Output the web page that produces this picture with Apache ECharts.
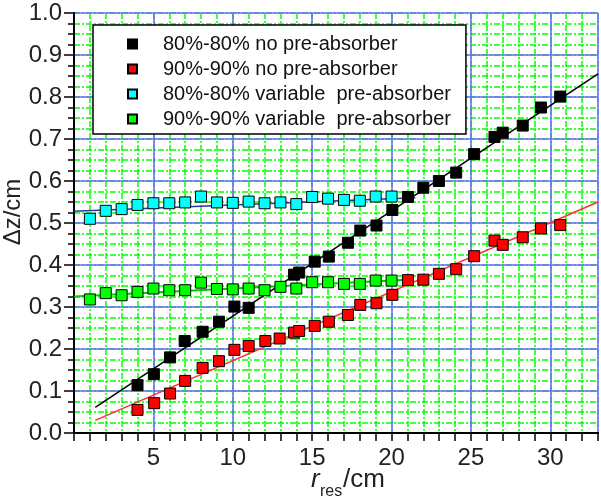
<!DOCTYPE html>
<html><head><meta charset="utf-8">
<script src="https://cdn.jsdelivr.net/npm/echarts@6/dist/echarts.min.js"></script>
<style>html,body{margin:0;padding:0;background:#fff}#c{width:601px;height:500px}</style>
</head><body><div id="c"></div>
<script>
// ---- data ----
const seriesNames = [
  '80%-80% no pre-absorber',
  '90%-90% no pre-absorber',
  '80%-80% variable  pre-absorber',
  '90%-90% variable  pre-absorber'
];
const blackX = [4.0,5.03,6.05,6.97,8.1,9.13,10.1,11.0,13.86,14.18,15.16,16.05,17.25,18.03,19.05,20.05,21.03,22.0,22.98,24.07,25.2,26.48,27.0,28.26,29.41,30.62];
const blackY = [0.114,0.140,0.180,0.219,0.241,0.265,0.301,0.298,0.377,0.382,0.408,0.420,0.453,0.482,0.494,0.531,0.562,0.584,0.600,0.620,0.664,0.705,0.715,0.732,0.775,0.801];
const redX = [4.0,5.05,6.05,7.0,8.1,9.13,10.1,11.0,12.05,12.95,13.86,14.18,15.16,16.05,17.25,18.03,19.05,20.05,21.03,22.0,22.98,24.07,25.2,26.48,27.0,28.26,29.41,30.62];
const redY = [0.055,0.071,0.094,0.124,0.155,0.171,0.198,0.207,0.219,0.225,0.239,0.243,0.255,0.265,0.281,0.305,0.309,0.329,0.364,0.365,0.379,0.390,0.421,0.458,0.448,0.466,0.487,0.495];
const varX = [1,2,3,4,5,6,7,8,9,10,11,12,13,14,15,16,17,18,19,20];
const cyanY = [0.510,0.529,0.533,0.543,0.547,0.547,0.549,0.563,0.549,0.548,0.551,0.547,0.549,0.545,0.562,0.558,0.555,0.553,0.563,0.563];
const greenY = [0.318,0.333,0.328,0.336,0.344,0.340,0.340,0.358,0.343,0.342,0.344,0.340,0.348,0.344,0.359,0.359,0.355,0.355,0.363,0.363];
// fitted lines (end points)
const fitBlack = [[1.34,0.061],[33,0.855]];
const fitRed = [[1.34,0.030],[33,0.550]];
const fitCyan = [[0,0.528],[21.5,0.560]];
const fitGreen = [[0,0.325],[21,0.365]];
const xTickLabels = [5,10,15,20,25,30];

const FONT = '"Liberation Sans", Arial, Helvetica, sans-serif';
const zip = (xs, ys) => xs.map((x,i) => [x, ys[i]]);

const chart = echarts.init(document.getElementById('c'), null, {renderer:'canvas'});
const greenGrid = {show:true, lineStyle:{color:'#00ff00', width:1.5, type:[6,2,2,2]}};
const blueGrid = {show:true, lineStyle:{color:'#6a6aff', width:1.5}};
const axLine = {show:true, lineStyle:{color:'#000', width:2}};
const tickStyle = {color:'#000', width:1.5};

function scatter(name, data, color){
  return {name, type:'scatter', data, xAxisIndex:1, yAxisIndex:1, symbol:'rect', symbolSize:11,
    itemStyle:{color, borderColor:'#000', borderWidth:1, opacity:1}, z:5, emphasis:{disabled:true}};
}
function fit(data, color, width){
  return {type:'line', data, xAxisIndex:1, yAxisIndex:1, showSymbol:false, symbol:'none',
    lineStyle:{color, width}, z:3, silent:true};
}

chart.setOption({
  animation:false,
  backgroundColor:'#fff',
  grid:{left:74, right:2, top:13, bottom:67, containLabel:false},
  xAxis:[
    {type:'value', position:'bottom', min:0, max:33, interval:1, axisLine:axLine,
     axisTick:{show:true, inside:false, length:8, lineStyle:tickStyle}, axisLabel:{show:false}, splitLine:greenGrid},
    {type:'value', position:'bottom', min:0, max:33, interval:5, axisLine:{show:false}, axisTick:{show:false},
     axisLabel:{show:true, fontSize:24, color:'#222', fontFamily:FONT, margin:13,
       formatter: v => xTickLabels.indexOf(v) >= 0 ? String(v) : ''}, splitLine:blueGrid},
    {type:'value', position:'top', min:0, max:33, interval:1, axisLine:axLine,
     axisTick:{show:true, inside:true, length:6, lineStyle:tickStyle}, axisLabel:{show:false}, splitLine:{show:false}}
  ],
  yAxis:[
    {type:'value', position:'left', min:0, max:1, interval:0.025, axisLine:axLine,
     axisTick:{show:true, inside:false, length:5, lineStyle:tickStyle}, axisLabel:{show:false}, splitLine:greenGrid},
    {type:'value', position:'left', min:0, max:1, interval:0.1, axisLine:{show:false},
     axisTick:{show:true, inside:false, length:10, lineStyle:tickStyle},
     axisLabel:{show:true, fontSize:24, color:'#222', fontFamily:FONT, margin:12, formatter: v => v.toFixed(1)},
     splitLine:blueGrid},
    {type:'value', position:'right', min:0, max:1, interval:0.025, axisLine:axLine,
     axisTick:{show:true, inside:true, length:6, lineStyle:tickStyle}, axisLabel:{show:false}, splitLine:{show:false}}
  ],
  legend:{
    show:true, orient:'vertical', left:93, top:25, data:seriesNames, selectedMode:false,
    icon:'rect', itemWidth:9, itemHeight:9, itemGap:5,
    padding:[9,15,5,34], backgroundColor:'#fff', borderColor:'#000', borderWidth:1.5,
    textStyle:{fontFamily:FONT, fontSize:20, color:'#111', lineHeight:20, padding:[0,0,0,21]}
  },
  graphic:[
    {type:'text', x:13, y:212, rotation:Math.PI/2,
     style:{text:'Δz/cm', font:'24px '+FONT, fill:'#222', align:'center', verticalAlign:'middle'}},
    {type:'text', x:311, y:480, style:{text:'r', font:'italic 26px '+FONT, fill:'#222', align:'left', verticalAlign:'middle'}},
    {type:'text', x:320, y:492, style:{text:'res', font:'16px '+FONT, fill:'#222', align:'left', verticalAlign:'middle'}},
    {type:'text', x:343, y:480, style:{text:'/cm', font:'26px '+FONT, fill:'#222', align:'left', verticalAlign:'middle'}}
  ],
  series:[
    fit(fitCyan, '#3030b0', 1.5),
    fit(fitGreen, '#00cc00', 2),
    fit(fitBlack, '#000000', 1.5),
    fit(fitRed, '#ff3030', 1.5),
    scatter(seriesNames[0], zip(blackX, blackY), '#000000'),
    scatter(seriesNames[1], zip(redX, redY), '#ff0000'),
    scatter(seriesNames[2], zip(varX, cyanY), '#00ffff'),
    scatter(seriesNames[3], zip(varX, greenY), '#00ff00')
  ]
});
</script></body></html>
